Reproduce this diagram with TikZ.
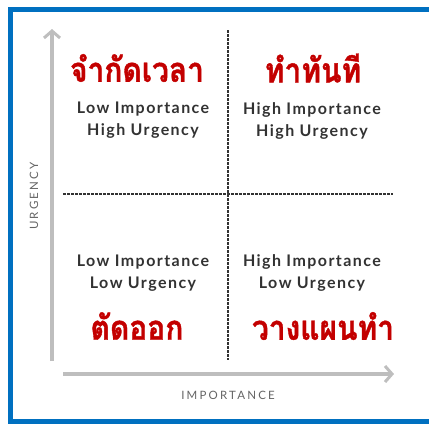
\documentclass[tikz,border=0pt]{standalone}
\usepackage{fontspec}
\setmainfont{Lato}
\newfontfamily\thaifont[Script=Thai, BoldFeatures={FakeBold=1.2}]{Loma}
\newfontfamily\quadfont[LetterSpace=9]{Lato}
\newfontfamily\axisfont[LetterSpace=19]{Lato}
\usepackage{tikz}
\usetikzlibrary{arrows.meta, positioning, calc}
\definecolor{framblue}{RGB}{0, 112, 192}
\definecolor{quadred}{RGB}{195, 0, 0}
\definecolor{axisgray}{RGB}{190, 190, 190}
\definecolor{textgray}{RGB}{50, 50, 50}
\definecolor{labelgray}{RGB}{100, 100, 100}

\tikzset{
    thaititle/.style={text=quadred, font=\thaifont\bfseries\fontsize{34}{36}\selectfont,
        inner sep=0pt, xscale=0.88, transform shape},
    quadtext/.style={text=textgray, font=\quadfont\bfseries\fontsize{16}{22}\selectfont, align=center, inner sep=0pt},
    axislabel/.style={text=labelgray, font=\axisfont\fontsize{11.5}{12}\selectfont, inner sep=0pt},
    axisline/.style={axisgray, line width=4pt, -{Straight Barb[length=7pt, width=16pt, line width=3pt]}},
    divider/.style={textgray, line width=1.4pt, dash pattern=on 2.5pt off 1.5pt}
}

\begin{document}
\begin{tikzpicture}[x=1pt, y=-1pt]
    \useasboundingbox (0,0) rectangle (429,424);
    % Frame
    \draw[framblue, line width=5pt] (10.5,9.5) rectangle (445,421.5);
    % Axes
    \coordinate (ybot) at (52,361);
    \coordinate (ytop) at (52,29);
    \coordinate (xleft) at (63,374);
    \coordinate (xright) at (394,374);
    \draw[axisline] (ybot) -- (ytop);
    \draw[axisline] (xleft) -- (xright);
    \node[axislabel, rotate=90] (urg) at (34,196) {URGENCY};
    \node[axislabel] (imp) at (228,395) {IMPORTANCE};
    % Dividers
    \coordinate (vtop) at (228,30);
    \coordinate (vbot) at (228,360);
    \coordinate (hleft) at (63,194);
    \coordinate (hright) at (393,194);
    \draw[divider] (vtop) -- (vbot);
    \draw[divider] (hleft) -- (hright);
    % Quadrants
    \node[thaititle] (limit) at (137,68) {จำกัดเวลา};
    \node[thaititle] (donow) at (313,68) {ทำทันที};
    \node[quadtext] (tl) at (143,120.5) {Low Importance\\High Urgency};
    \node[quadtext] (tr) at (312,120.5) {High Importance\\High Urgency};
    \node[quadtext] (bl) at (143,273) {Low Importance\\Low Urgency};
    \node[quadtext] (br) at (312,273) {High Importance\\Low Urgency};
    \node[thaititle] (cut) at (137,326) {ตัดออก};
    \node[thaititle] (plan) at (323,326) {วางแผนทำ};
\end{tikzpicture}
\end{document}
